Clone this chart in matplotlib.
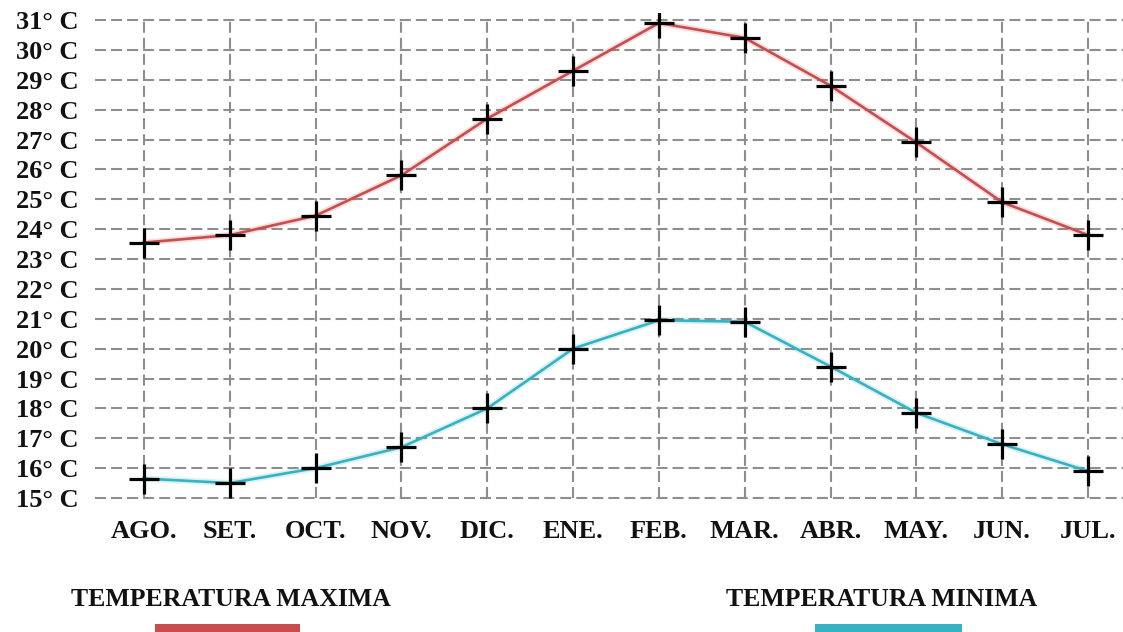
import matplotlib
matplotlib.use("Agg")
import matplotlib.pyplot as plt
from matplotlib.patches import Rectangle

months = ["AGO.", "SET.", "OCT.", "NOV.", "DIC.", "ENE.", "FEB.", "MAR.", "ABR.", "MAY.", "JUN.", "JUL."]
temp_max = [23.55, 23.8, 24.45, 25.8, 27.7, 29.3, 30.9, 30.4, 28.8, 26.9, 24.9, 23.8]
temp_min = [15.65, 15.5, 16.0, 16.7, 18.0, 20.0, 20.95, 20.9, 19.4, 17.85, 16.8, 15.9]
y_ticks = list(range(15, 32))
y_labels = [f"{v}° C" for v in y_ticks]
legend_labels = ["TEMPERATURA MAXIMA", "TEMPERATURA MINIMA"]

RED = "#c94d4d"
CYAN = "#35b2c4"
GRID = "#8e8e8e"
FONT = "Liberation Serif"

W, H = 1123, 632
fig = plt.figure(figsize=(W / 100, H / 100), dpi=100)

# axes placement (pixels)
left_px, right_px = 95, 1123
top_px, bottom_px = 13, 505
ax = fig.add_axes([left_px / W, 1 - bottom_px / H, (right_px - left_px) / W, (bottom_px - top_px) / H])

x = list(range(len(months)))
step_px = (1088 - 144) / 11.0
ax.set_xlim(-(144 - left_px) / step_px, (right_px - 144) / step_px)
px_per_deg = (498 - 20) / 16.0
ax.set_ylim(15 - (bottom_px - 498) / px_per_deg, 31 + (20 - top_px) / px_per_deg)

dash = (0, (5.3, 2.4))
for v in y_ticks:
    ax.axhline(v, color=GRID, lw=1.5, linestyle=dash, zorder=1)
ax.vlines(x, y_ticks[0], y_ticks[-1], color=GRID, lw=1.5, linestyle=dash, zorder=1)

for data, col in [(temp_max, RED), (temp_min, CYAN)]:
    ax.plot(x, data, color=col, lw=4.5, alpha=0.18, zorder=2, solid_capstyle="round")
    ax.plot(x, data, color=col, lw=1.9, zorder=3)
    ax.plot(x, data, linestyle="none", marker="+", markersize=22, mew=2.3, color="black", zorder=4)

for s in ax.spines.values():
    s.set_visible(False)
ax.set_xticks(x)
ax.set_xticklabels(months, fontfamily=FONT, fontweight="bold", fontsize=19, color="#111111")
ax.set_yticks(y_ticks)
ax.set_yticklabels(y_labels, fontfamily=FONT, fontweight="bold", fontsize=19, color="#111111")
ax.tick_params(axis="x", length=0, pad=11)
ax.tick_params(axis="y", length=0, pad=12)

# legend
for label, col, cx, bx0, bx1 in [(legend_labels[0], RED, 231, 155, 300),
                                 (legend_labels[1], CYAN, 882, 815, 962)]:
    fig.text(cx / W, 1 - 600 / H, label, ha="center", va="center", fontfamily=FONT,
             fontweight="bold", fontsize=18.5, color="#111111")
    fig.patches.append(Rectangle((bx0 / W, 0), (bx1 - bx0) / W, (H - 624) / H,
                                 transform=fig.transFigure, facecolor=col, edgecolor="none"))

fig.savefig("out.png", dpi=100, facecolor="white")
